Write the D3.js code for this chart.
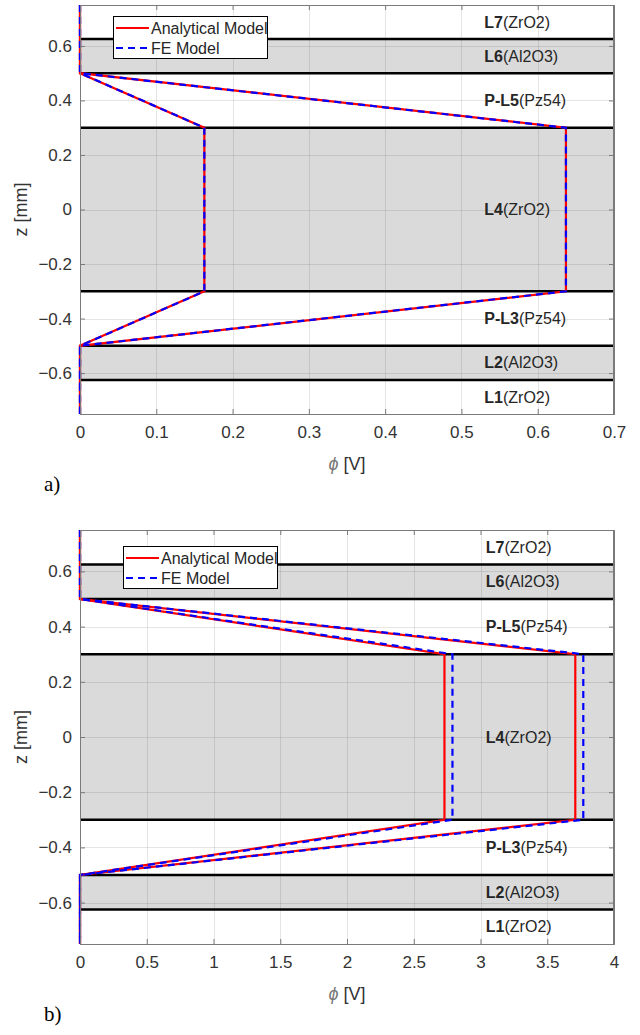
<!DOCTYPE html>
<html>
<head>
<meta charset="utf-8">
<script src="https://cdn.jsdelivr.net/npm/d3@7"></script>
<style>
  body { margin: 0; background: #fff; }
  svg { display: block; }
</style>
</head>
<body>
<svg id="chart" width="640" height="1035" font-family="'Liberation Sans', Arial, Helvetica, sans-serif"></svg>
<script>
// ---- data ----
const zPoints = [0.75, 0.5, 0.3, -0.3, -0.5, -0.75];

// panel a)
const aAnalyticalLow  = [0, 0, 0.163, 0.163, 0, 0];
const aAnalyticalHigh = [0, 0, 0.637, 0.637, 0, 0];
const aFELow          = [0, 0, 0.163, 0.163, 0, 0];
const aFEHigh         = [0, 0, 0.637, 0.637, 0, 0];
const aXTicks = [0, 0.1, 0.2, 0.3, 0.4, 0.5, 0.6, 0.7];

// panel b)
const bAnalyticalLow  = [0, 0, 2.73, 2.73, 0, 0];
const bAnalyticalHigh = [0, 0, 3.71, 3.71, 0, 0];
const bFELow          = [0, 0, 2.79, 2.79, 0, 0];
const bFEHigh         = [0, 0, 3.77, 3.77, 0, 0];
const bXTicks = [0, 0.5, 1, 1.5, 2, 2.5, 3, 3.5, 4];

const yTicks = [-0.6, -0.4, -0.2, 0, 0.2, 0.4, 0.6];

// layers (top to bottom)
const layerBounds = [0.75, 0.625, 0.5, 0.3, -0.3, -0.5, -0.625, -0.75];
const layerNames = ["L7", "L6", "P-L5", "L4", "P-L3", "L2", "L1"];
const layerMaterials = ["ZrO2", "Al2O3", "Pz54", "ZrO2", "Pz54", "Al2O3", "ZrO2"];
const layerShaded = [false, true, false, true, false, true, false];

const legendLabels = ["Analytical Model", "FE Model"];

const svg = d3.select("#chart");

function drawPanel(opt) {
  const g = svg.append("g");
  const x = d3.scaleLinear().domain(opt.xDomain).range([80, 614]);
  const y = d3.scaleLinear().domain([-0.75, 0.75]).range([opt.bottom, opt.top]);
  const x0 = x.range()[0], x1 = x.range()[1];

  // layer fills
  layerNames.forEach((n, i) => {
    if (layerShaded[i]) {
      g.append("rect")
        .attr("x", x0).attr("width", x1 - x0)
        .attr("y", y(layerBounds[i])).attr("height", y(layerBounds[i + 1]) - y(layerBounds[i]))
        .attr("fill", "#dadada");
    }
  });

  // grid
  const grid = g.append("g").attr("stroke", "#262626").attr("stroke-opacity", 0.12).attr("stroke-width", 1);
  opt.xTicks.forEach(t => {
    grid.append("line").attr("x1", Math.round(x(t)) + 0.5).attr("x2", Math.round(x(t)) + 0.5)
      .attr("y1", opt.top).attr("y2", opt.bottom);
  });
  yTicks.forEach(t => {
    grid.append("line").attr("y1", Math.round(y(t)) + 0.5).attr("y2", Math.round(y(t)) + 0.5)
      .attr("x1", x0).attr("x2", x1);
  });

  // layer boundaries
  layerBounds.slice(1, -1).forEach(b => {
    g.append("line").attr("x1", x0).attr("x2", x1)
      .attr("y1", y(b)).attr("y2", y(b))
      .attr("stroke", "#000").attr("stroke-width", 2.5);
  });

  // data lines
  const line = d3.line().x(d => x(d[0])).y(d => y(d[1]));
  const mk = arr => arr.map((v, i) => [v, zPoints[i]]);
  [opt.anLow, opt.anHigh].forEach(arr => {
    g.append("path").attr("d", line(mk(arr))).attr("fill", "none")
      .attr("stroke", "#ff0000").attr("stroke-width", 2.2);
  });
  [opt.feLow, opt.feHigh].forEach(arr => {
    g.append("path").attr("d", line(mk(arr))).attr("fill", "none")
      .attr("stroke", "#0000ff").attr("stroke-width", 2.2).attr("stroke-dasharray", "7,5");
  });

  // axes
  const axCol = "#7a7a7a";
  const xAxis = d3.axisBottom(x).tickValues(opt.xTicks).tickSize(-5).tickPadding(12).tickFormat(d3.format("~g"));
  const xg = g.append("g").attr("transform", `translate(0,${opt.bottom})`).call(xAxis);
  const xAxisTop = d3.axisTop(x).tickValues(opt.xTicks).tickSize(-5).tickFormat("");
  const xgt = g.append("g").attr("transform", `translate(0,${opt.top})`).call(xAxisTop);
  const yAxis = d3.axisLeft(y).tickValues(yTicks).tickSize(-5).tickPadding(8).tickFormat(d3.format("~g"));
  const yg = g.append("g").attr("transform", `translate(${x0},0)`).call(yAxis);
  const yAxisR = d3.axisRight(y).tickValues(yTicks).tickSize(-5).tickFormat("");
  const ygr = g.append("g").attr("transform", `translate(${x1},0)`).call(yAxisR);
  [xg, xgt, yg, ygr].forEach(a => {
    a.attr("font-family", null);
    a.select(".domain").attr("stroke", axCol);
    a.selectAll(".tick line").attr("stroke", axCol);
    a.selectAll("text").attr("fill", "#333").attr("font-size", 17);
  });
  g.append("rect").attr("x", x0 + 0.5).attr("y", opt.top + 0.5)
    .attr("width", x1 - x0 - 1).attr("height", opt.bottom - opt.top)
    .attr("fill", "none").attr("stroke", axCol).attr("stroke-width", 1);

  // layer labels
  layerNames.forEach((n, i) => {
    const t = g.append("text")
      .attr("x", x(opt.labelX))
      .attr("y", y((layerBounds[i] + layerBounds[i + 1]) / 2))
      .attr("dy", "0.35em").attr("font-size", 16).attr("fill", "#262626");
    t.append("tspan").attr("font-weight", "bold").text(n);
    t.append("tspan").text("(" + layerMaterials[i] + ")");
  });

  // axis labels
  const xl = g.append("text").attr("x", (x0 + x1) / 2).attr("y", opt.bottom + 56)
    .attr("text-anchor", "middle").attr("font-size", 18).attr("fill", "#333");
  xl.append("tspan").attr("font-style", "italic").attr("fill", "#777").text("ϕ");
  xl.append("tspan").text(" [V]");
  g.append("text").attr("transform", `translate(27,${(opt.top + opt.bottom) / 2}) rotate(-90)`)
    .attr("text-anchor", "middle").attr("font-size", 18).attr("fill", "#333").text("z [mm]");

  // legend
  const lg = g.append("g").attr("transform", `translate(${opt.legX},${opt.legY})`);
  lg.append("rect").attr("x", 0.5).attr("y", 0.5).attr("width", 154).attr("height", 42)
    .attr("fill", "#fff").attr("stroke", "#000").attr("stroke-width", 1);
  legendLabels.forEach((lab, i) => {
    const yy = 12 + i * 20;
    lg.append("line").attr("x1", 3).attr("x2", 36).attr("y1", yy).attr("y2", yy)
      .attr("stroke", i === 0 ? "#ff0000" : "#0000ff").attr("stroke-width", 2.2)
      .attr("stroke-dasharray", i === 0 ? null : "7,5");
    lg.append("text").attr("x", 38).attr("y", yy).attr("dy", "0.35em")
      .attr("font-size", 16).attr("fill", "#262626").text(lab);
  });

  // panel label
  svg.append("text").attr("x", 44).attr("y", opt.bottom + 77)
    .attr("font-family", "'Liberation Serif', 'Times New Roman', serif")
    .attr("font-size", 21).attr("fill", "#000").text(opt.panel);
}

drawPanel({
  xDomain: [0, 0.7], xTicks: aXTicks, top: 5, bottom: 414,
  anLow: aAnalyticalLow, anHigh: aAnalyticalHigh, feLow: aFELow, feHigh: aFEHigh,
  labelX: 0.53, legX: 113, legY: 16, panel: "a)"
});
drawPanel({
  xDomain: [0, 4], xTicks: bXTicks, top: 530, bottom: 944,
  anLow: bAnalyticalLow, anHigh: bAnalyticalHigh, feLow: bFELow, feHigh: bFEHigh,
  labelX: 3.04, legX: 123, legY: 546, panel: "b)"
});
</script>
</body>
</html>
